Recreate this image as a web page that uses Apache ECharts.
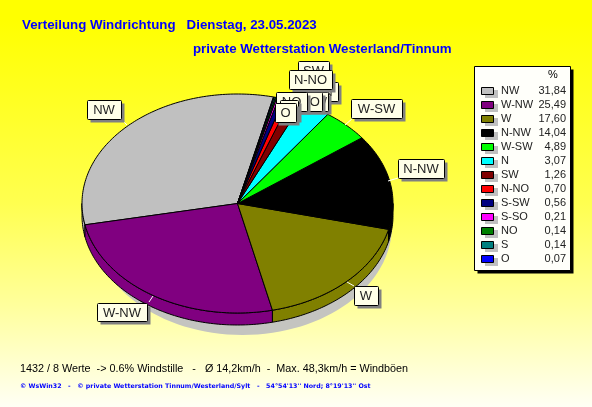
<!DOCTYPE html>
<html><head><meta charset="utf-8">
<style>html,body{margin:0;padding:0;background:#fff}#c{width:592px;height:407px}</style>
<script src="https://cdn.jsdelivr.net/npm/echarts@6/dist/echarts.min.js"></script>
</head><body><div id="c"></div>
<script>
// ---- data ----
const categories = ['NW','W-NW','W','N-NW','W-SW','N','SW','N-NO','S-SW','S-SO','NO','S','O'];
const percents   = [31.84,25.49,17.60,14.04,4.89,3.07,1.26,0.70,0.56,0.21,0.14,0.14,0.07];
const percentLabels = ['31,84','25,49','17,60','14,04','4,89','3,07','1,26','0,70','0,56','0,21','0,14','0,14','0,07'];
const colors = ['#c0c0c0','#800080','#808000','#000000','#00ff00','#00ffff','#800000','#ff0000','#000080','#ff00ff','#008000','#008080','#0000ff'];
const titleA = 'Verteilung Windrichtung   Dienstag, 23.05.2023';
const titleB = 'private Wetterstation Westerland/Tinnum';
const footA = '1432 / 8 Werte  -> 0.6% Windstille   -   Ø 14,2km/h  -  Max. 48,3km/h = Windböen';
const footB = '© WsWin32   -   © private Wetterstation Tinnum/Westerland/Sylt   -   54°54\'13\'\' Nord; 8°19\'13\'\' Ost';

// ---- layout ----
const pie = {cx:237.5, cy:203.5, rx:155.5, ry:109.5, depth:12, startDeg:373.4, shadowDx:5, shadowDy:10};
const labelBoxes = { // x, y, w, h, leader
  'NW':[87,100,34,19,[121,119,127,125]],
  'W-NW':[97,303,50,18,[149,302,153,296]],
  'W':[354,286,24,19,[347,282,354,286]],
  'N-NW':[398,159,46,19,[388,181,398,178]],
  'W-SW':[351,99,51,19,[353,118,345,125]],
  'SW':[298,61,31,19],
  'N':[318,82,20,19],
  'N-NO':[289,70,43,19],
  'S-SW':[292,92,36,19],
  'S-SO':[286,92,36,19],
  'NO':[276,92,31,19],
  'S':[280,100,18,19],
  'O':[275,103,21,19]
};
const labelOrder = ['NW','W-NW','W','N-NW','W-SW','SW','N','S-SW','S-SO','N-NO','NO','S','O'];

// cumulative percent spans of the slices
let acc = 0;
const spans = percents.map(p => { const a = acc; acc += p; return [a, acc]; });
const rad = d => d * Math.PI / 180;
const pt = (t, dy=0) => [pie.cx + pie.rx * Math.sin(rad(t)), pie.cy + dy - pie.ry * Math.cos(rad(t))];
function arc(t0, t1, dy=0){
  const n = Math.max(2, Math.ceil(Math.abs(t1 - t0)));
  const out = [];
  for (let i = 0; i <= n; i++) out.push(pt(t0 + (t1 - t0) * i / n, dy));
  return out;
}
// Percent -> angle clockwise from top; slices run counter-clockwise from the start angle
const angle = p => pie.startDeg - p * 3.6;

const shadowSeries = {
  type:'custom', coordinateSystem:'none', silent:true, z:1,
  data:[[0,100]],
  renderItem(){
    return {type:'ellipse', shape:{cx:pie.cx+pie.shadowDx, cy:pie.cy+pie.shadowDy+pie.depth, rx:pie.rx-6, ry:pie.ry},
      style:{fill:'#c4c4c0'}};
  }
};
const sideSeries = {
  type:'custom', coordinateSystem:'none', silent:true, z:2,
  data:spans,
  renderItem(params, api){
    // visible front rim lies between 90 and 270 degrees
    const a = angle(api.value(1)), b = angle(api.value(0));
    const norm = x => ((x % 360) + 360) % 360;
    const s = norm(a), e = s + (b - a);
    const lo = Math.max(s, 90), hi = Math.min(e, 270);
    if (hi <= lo) return {type:'group', children:[]};
    const top = arc(lo, hi, 0), bot = arc(hi, lo, pie.depth);
    return {type:'polygon', shape:{points:top.concat(bot)},
      style:{fill:colors[params.dataIndex], stroke:'#000', lineWidth:1}};
  }
};
const topSeries = {
  type:'custom', coordinateSystem:'none', silent:true, z:3,
  data:spans,
  renderItem(params, api){
    const a = angle(api.value(1)), b = angle(api.value(0));
    return {type:'polygon', shape:{points:[[pie.cx,pie.cy]].concat(arc(a,b,0))},
      style:{fill:colors[params.dataIndex], stroke:'#000', lineWidth:1, lineJoin:'round'}};
  }
};

const labelFont = '13px "Liberation Sans", Arial, sans-serif';
const g = [];
const txt = (x,y,text,o={}) => g.push({type:'text', z:o.z||10, x, y, silent:true,
  style:{text, fill:o.fill||'#000', font:o.font||labelFont, align:o.align||'left', verticalAlign:'middle'}});
const rect = (x,y,w,h,fill,stroke,z) => g.push({type:'rect', z:z||10, silent:true,
  shape:{x:x+.5,y:y+.5,width:w,height:h}, style:{fill, stroke:stroke||null, lineWidth:1}});

// titles and footers
txt(22,25,titleA,{fill:'#0000ff',font:'bold 13.3px "Liberation Sans"'});
txt(193,49,titleB,{fill:'#0000ff',font:'bold 13.3px "Liberation Sans"'});
txt(20,369,footA,{fill:'#000',font:'10.8px "Liberation Sans"'});
txt(20,386,footB,{fill:'#0000ff',font:'bold 6.3px "DejaVu Sans"'});

// pie labels
let z = 20;
labelOrder.forEach(name => {
  const [x,y,w,h,lead] = labelBoxes[name];
  z += 1;
  if (lead) g.push({type:'line', z:z, silent:true, shape:{x1:lead[0],y1:lead[1],x2:lead[2],y2:lead[3]}, style:{stroke:'#fff',lineWidth:1}});
  g.push({type:'rect', z, silent:true, shape:{x:x+3.5,y:y+3.5,width:w,height:h}, style:{fill:'#808080'}});
  g.push({type:'rect', z, silent:true, shape:{x:x+.5,y:y+.5,width:w,height:h,r:1}, style:{fill:'#ffffe8',stroke:'#000',lineWidth:1}});
  g.push({type:'text', z, silent:true, x:x+w/2, y:y+h/2+1, style:{text:name, fill:'#222', font:labelFont, align:'center', verticalAlign:'middle'}});
});

// legend table
rect(477,69,96,204,'#000',null,10);
rect(474,66,96,204,'#fffffa','#000',11);
txt(553,75,'%',{z:12,font:'11px "Liberation Sans"',align:'center'});
categories.forEach((name,i) => {
  const y = 91 + i*14;
  g.push({type:'rect', z:12, silent:true, shape:{x:485,y:y-1,width:13,height:8}, style:{fill:'#c0c0c0'}});
  rect(481,y-4,12,7,colors[i],'#000',13);
  txt(501,y,name,{z:12,font:'11px "Liberation Sans"',fill:'#222'});
  txt(566,y,percentLabels[i],{z:12,font:'11px "Liberation Sans"',align:'right',fill:'#222'});
});

const chart = echarts.init(document.getElementById('c'), null, {renderer:'canvas'});
chart.setOption({
  animation:false,
  backgroundColor:{type:'linear',x:0,y:0,x2:0,y2:1,colorStops:[
    {offset:0,color:'#ffff00'},{offset:.05,color:'#ffff00'},{offset:.5,color:'#ffff50'},{offset:.75,color:'#ffff9c'},{offset:1,color:'#fffff5'}]},
  series:[shadowSeries, sideSeries, topSeries],
  graphic:g
});
</script></body></html>
